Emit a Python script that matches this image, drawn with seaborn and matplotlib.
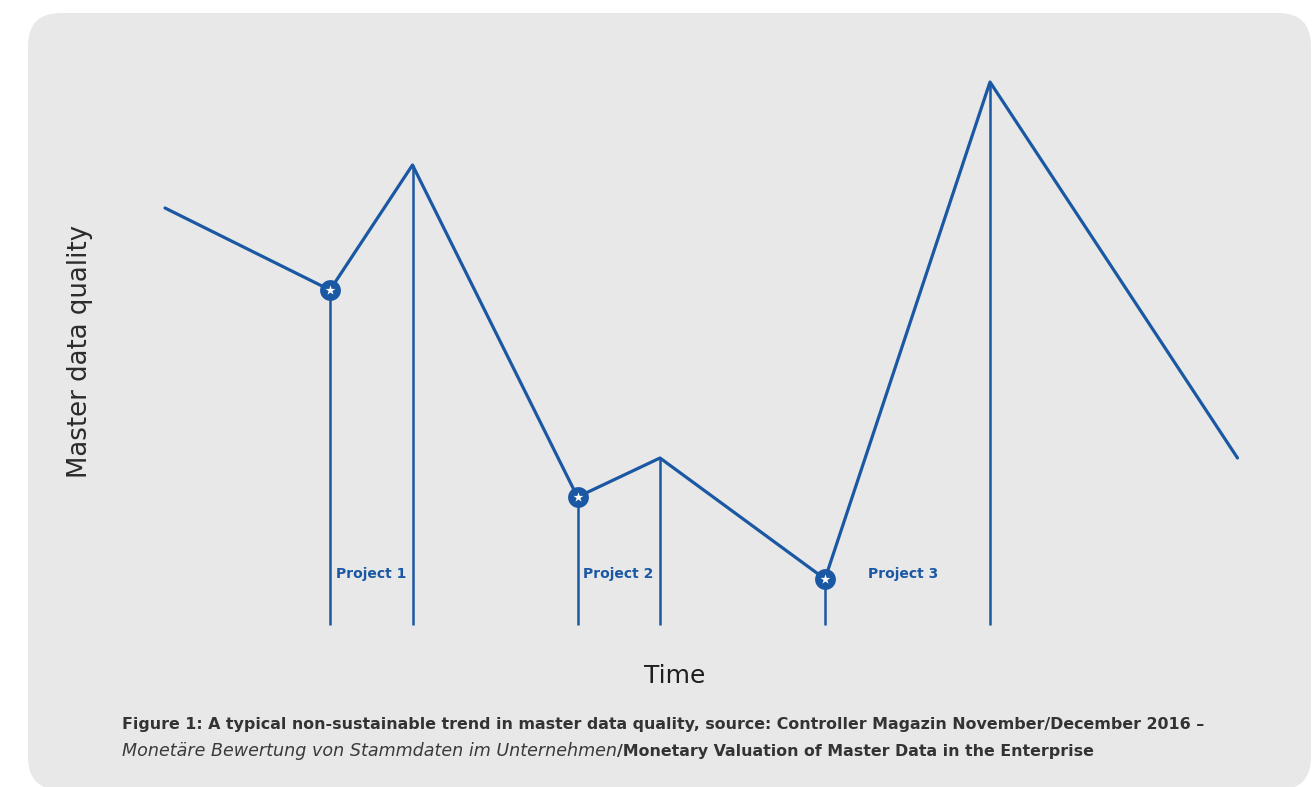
import matplotlib
matplotlib.use("Agg")
import matplotlib.pyplot as plt
from matplotlib.patches import FancyBboxPatch
import seaborn as sns
import pandas as pd

# Master data quality over time (arbitrary units)
time = [0, 2, 3, 5, 6, 8, 10, 13]
quality = [41.7, 33.5, 46.0, 12.8, 16.7, 4.6, 54.3, 16.7]

# Projects: start and end times on the time axis
project_names = ["Project 1", "Project 2", "Project 3"]
project_start = [2, 5, 8]
project_end = [3, 6, 10]

caption_line1 = ("Figure 1: A typical non-sustainable trend in master data quality, "
                 "source: Controller Magazin November/December 2016 \u2013")
caption_italic = "Monet\u00e4re Bewertung von Stammdaten im Unternehmen"
caption_rest = "/Monetary Valuation of Master Data in the Enterprise"

BLUE = "#1b58a3"
PANEL = "#e8e8e8"
TEXT = "#2b2b2b"

sns.set_theme(style="white")
plt.rcParams["font.family"] = ["DejaVu Sans"]

W, H = 1316, 787
fig = plt.figure(figsize=(W / 100, H / 100), dpi=100)
fig.patch.set_facecolor("white")

# rounded grey panel behind the chart
panel = FancyBboxPatch((28 / W, -3 / H), (1311 - 28) / W, (787 - 13 + 3) / H,
                       boxstyle="round,pad=0,rounding_size=0.025",
                       transform=fig.transFigure, facecolor=PANEL,
                       edgecolor="none", zorder=-5,
                       mutation_aspect=W / H)
fig.patches.append(panel)

ax = fig.add_axes([0, 0, 1, 1])
ax.set_facecolor("none")
ax.set_xlim(-165 / 82.5, (W - 165) / 82.5)
ax.set_ylim((625 - H) / 10, 625 / 10)
ax.axis("off")

df = pd.DataFrame({"time": time, "quality": quality})
sns.lineplot(data=df, x="time", y="quality", sort=False, color=BLUE,
             linewidth=2.3, ax=ax, zorder=3)

lookup = dict(zip(time, quality))

# vertical guides from the baseline up to the curve at each project start/end
for t in project_start + project_end:
    ax.vlines(t, 0, lookup[t], color=BLUE, linewidth=1.8, zorder=2)

# project start markers: filled circle with a white star
starts = pd.DataFrame({"time": project_start,
                       "quality": [lookup[t] for t in project_start]})
sns.scatterplot(data=starts, x="time", y="quality", s=15 ** 2, color=BLUE,
                edgecolor=BLUE, linewidth=0, ax=ax, zorder=4)
sns.scatterplot(data=starts, x="time", y="quality", marker="*", s=55,
                color="white", edgecolor="white", linewidth=0, ax=ax, zorder=5)

label_offsets = [0.07, 0.07, 0.52]
for name, t, off in zip(project_names, project_start, label_offsets):
    ax.text(t + off, 5.1, name, color=BLUE, fontsize=10, fontweight="bold",
            ha="left", va="center", zorder=5)

# axis titles
fig.text(80 / W, 1 - 351 / H, "Master data quality", rotation=90,
         ha="center", va="center", fontsize=18.7, color=TEXT)
fig.text(675 / W, 1 - 676 / H, "Time", ha="center", va="center",
         fontsize=18, fontweight="normal", color="#1e1e1e")

# caption
fig.text(122 / W, 1 - 729 / H, caption_line1, ha="left", va="baseline",
         fontsize=11.45, fontweight="bold", color="#333333")
line2_y = 1 - 756 / H
t_it = fig.text(122 / W, line2_y, caption_italic, ha="left", va="baseline",
                fontsize=12.6, style="italic", color="#3a3a3a")
ax.annotate(caption_rest, xy=(1, line2_y),
            xycoords=(t_it, "figure fraction"), ha="left", va="baseline",
            fontsize=11.45, fontweight="bold", color="#333333",
            annotation_clip=False)

fig.savefig("out.png", dpi=100, facecolor="white")
